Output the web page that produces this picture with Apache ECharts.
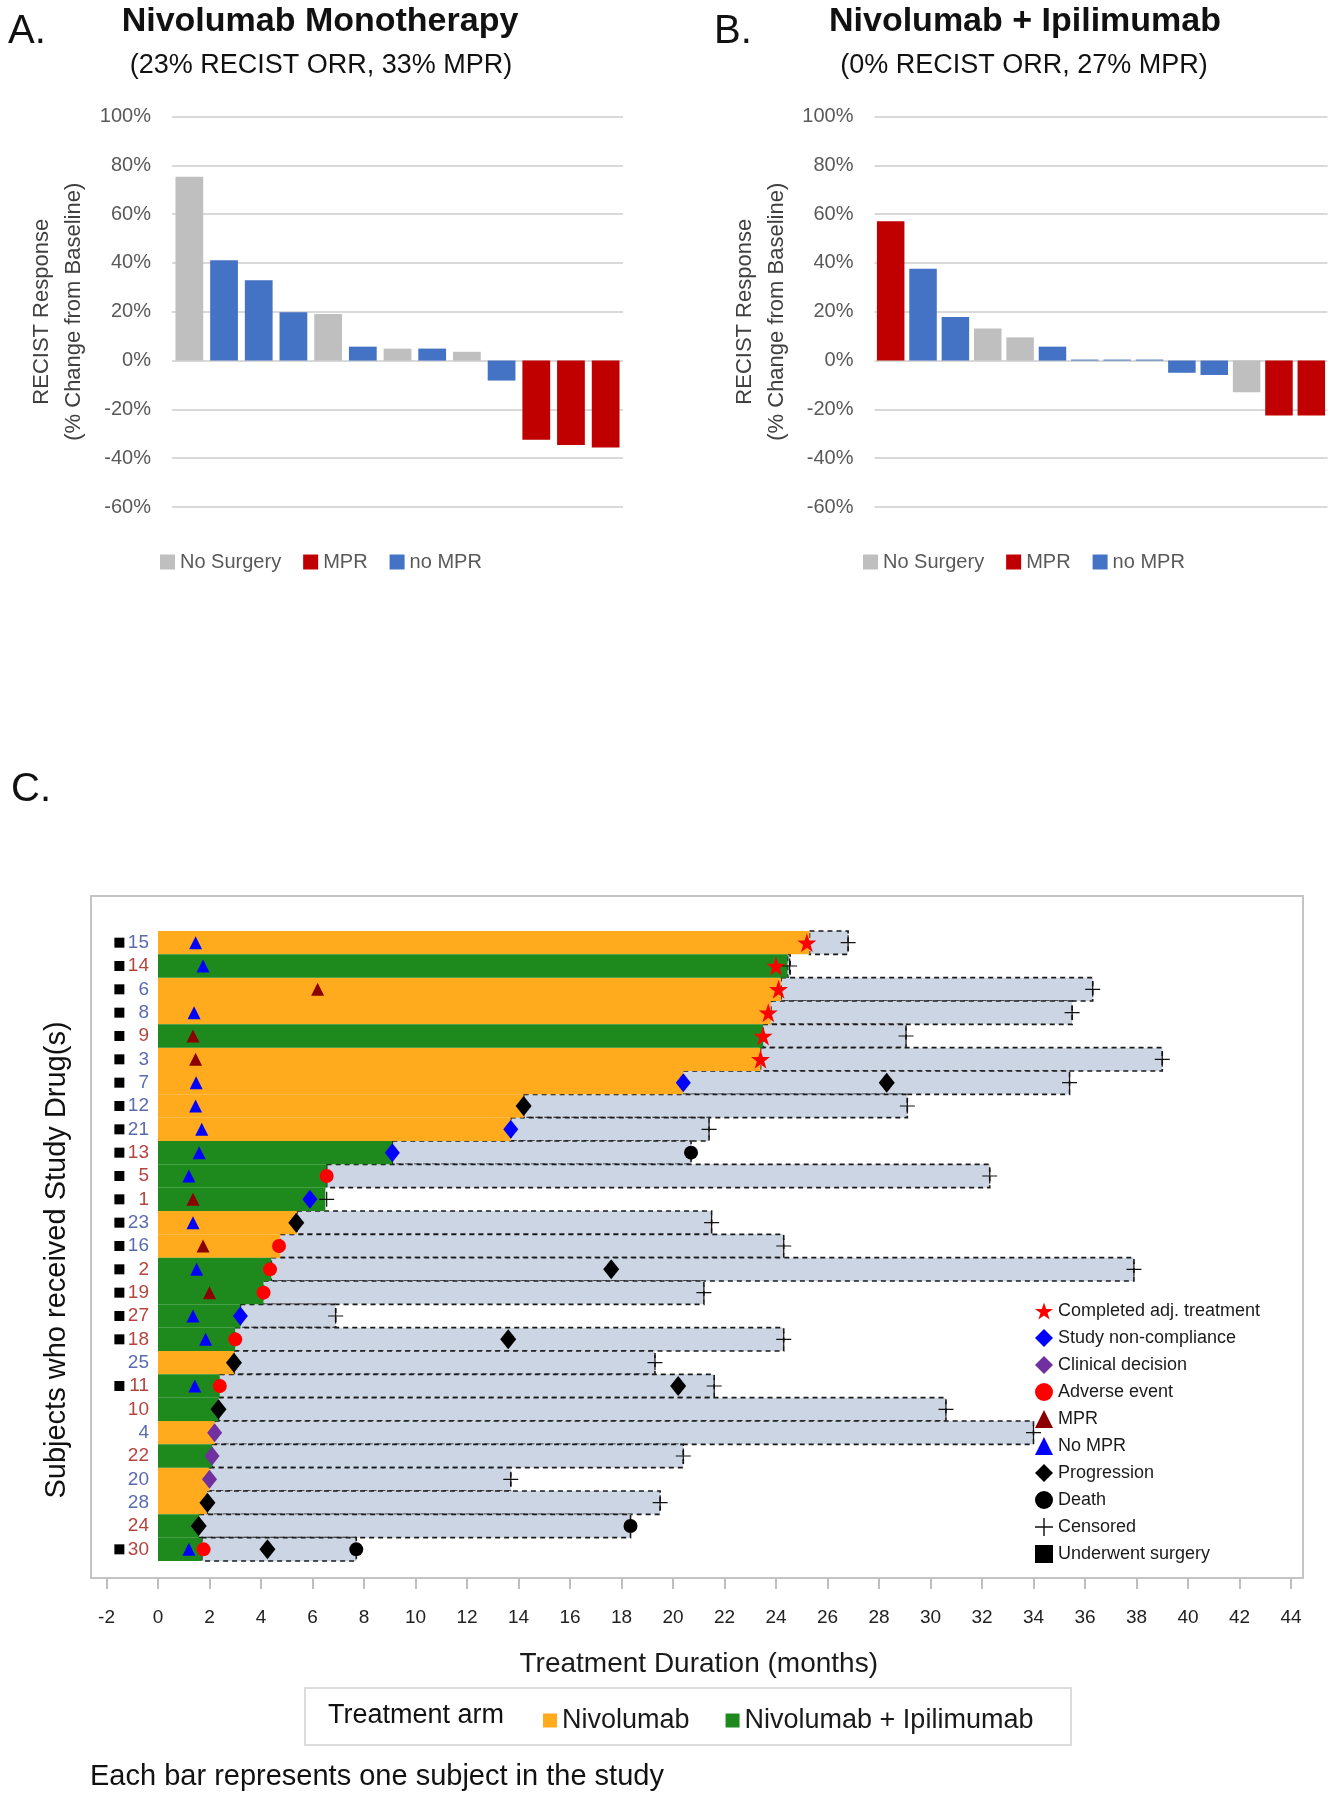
<!DOCTYPE html>
<html lang="en">
<head>
<meta charset="utf-8" />
<title>Nivolumab / Ipilimumab - RECIST waterfall and treatment duration</title>
<script src="https://cdn.jsdelivr.net/npm/echarts@6/dist/echarts.min.js"></script>
<style>
  html, body { margin: 0; padding: 0; background: #fff; }
  #chart { width: 1333px; height: 1800px; }
</style>
</head>
<body>
<div id="chart"></div>
<script>
// ---- panel A / B : RECIST change from baseline (%), one bar per subject
var recistA = [75.3, 41.1, 32.9, 19.8, 19.1, 5.7, 4.9, 4.9, 3.6, -8.2, -32.4, -34.6, -35.6]
var groupA = ['ns', 'no', 'no', 'no', 'ns', 'no', 'ns', 'no', 'ns', 'no', 'mpr', 'mpr', 'mpr']
var recistB = [57.1, 37.6, 17.9, 13.1, 9.5, 5.7, 0.4, 0.4, 0.4, -5.0, -5.9, -13.0, -22.5, -22.5]
var groupB = ['mpr', 'no', 'no', 'ns', 'ns', 'no', 'no', 'no', 'no', 'no', 'no', 'ns', 'mpr', 'mpr']
var groupNames = { ns: 'No Surgery', mpr: 'MPR', no: 'no MPR' }
var groupColors = { ns: '#bfbfbf', mpr: '#c00000', no: '#4472c4' }

// ---- panel C : swimmer plot (months)
var subjects = ['15', '14', '6', '8', '9', '3', '7', '12', '21', '13', '5', '1', '23', '16', '2', '19', '27', '18', '25', '11', '10', '4', '22', '20', '28', '24', '30']
var arm = ['N', 'NI', 'N', 'N', 'NI', 'N', 'N', 'N', 'N', 'NI', 'NI', 'NI', 'N', 'N', 'NI', 'NI', 'NI', 'NI', 'N', 'NI', 'NI', 'N', 'NI', 'N', 'N', 'NI', 'NI']
var treatEnd = [25.3, 24.45, 24.2, 23.8, 23.5, 23.4, 20.4, 14.2, 13.7, 9.1, 6.55, 6.5, 5.4, 4.75, 4.4, 4.1, 3.2, 3.0, 2.95, 2.4, 2.35, 2.2, 2.1, 2.0, 1.9, 1.6, 1.7]
var followEnd = [26.8, 24.55, 36.3, 35.5, 29.05, 39.0, 35.4, 29.1, 21.4, 20.7, 32.3, 6.5, 21.5, 24.3, 37.9, 21.2, 6.9, 24.3, 19.3, 21.6, 30.6, 34.0, 20.4, 13.7, 19.5, 18.35, 7.7]
var surgery = ['15', '14', '6', '8', '9', '3', '7', '12', '21', '13', '5', '1', '23', '16', '2', '19', '27', '18', '11', '30']
var surgeryX = -1.5

var completed = [[25.2, '15'], [24.0, '14'], [24.1, '6'], [23.7, '8'], [23.5, '9'], [23.4, '3']]
var nonCompliance = [[20.4, '7'], [13.7, '21'], [9.1, '13'], [5.9, '1'], [3.2, '27']]
var clinical = [[2.2, '4'], [2.1, '22'], [2.0, '20']]
var adverse = [[6.55, '5'], [4.7, '16'], [4.35, '2'], [4.1, '19'], [3.0, '18'], [2.4, '11'], [1.77, '30']]
var mpr = [[6.2, '6'], [1.36, '9'], [1.46, '3'], [1.36, '1'], [1.75, '16'], [2.0, '19']]
var noMpr = [[1.46, '15'], [1.75, '14'], [1.4, '8'], [1.48, '7'], [1.46, '12'], [1.7, '21'], [1.6, '13'], [1.2, '5'], [1.36, '23'], [1.5, '2'], [1.36, '27'], [1.85, '18'], [1.43, '11'], [1.2, '30']]
var progression = [[28.3, '7'], [14.2, '12'], [5.37, '23'], [17.6, '2'], [13.6, '18'], [2.95, '25'], [20.2, '11'], [2.35, '10'], [1.92, '28'], [1.58, '24'], [4.25, '30']]
var death = [[20.7, '13'], [18.35, '24'], [7.7, '30']]
var censored = [[26.8, '15'], [24.53, '14'], [36.3, '6'], [35.5, '8'], [29.05, '9'], [39.0, '3'], [35.4, '7'], [29.1, '12'], [21.4, '21'], [32.3, '5'], [6.55, '1'], [21.5, '23'], [24.3, '16'], [37.9, '2'], [21.2, '19'], [6.9, '27'], [24.3, '18'], [19.3, '25'], [21.6, '11'], [30.6, '10'], [34.0, '4'], [20.4, '22'], [13.7, '20'], [19.5, '28']]

var FONT = 'Liberation Sans, Arial, sans-serif'
var STAR = 'path://M50,0L61.8,35.1L98.5,35.1L68.8,56.7L80.2,91.6L50,70L19.8,91.6L31.2,56.7L1.5,35.1L38.2,35.1Z'
var PLUS = 'path://M9.2,0H10.8V9.2H20V10.8H10.8V20H9.2V10.8H0V9.2H9.2Z'

function waterfallSeries (vals, groups, idx, gap) {
  return ['ns', 'mpr', 'no'].map(function (key) {
    return {
      type: 'bar',
      name: groupNames[key],
      xAxisIndex: idx,
      yAxisIndex: idx,
      stack: 'w' + idx,
      barCategoryGap: gap,
      itemStyle: { color: groupColors[key] },
      data: vals.map(function (v, i) { return groups[i] === key ? v : null })
    }
  })
}

function eventSeries (name, data, symbol, size, color) {
  return {
    type: 'scatter', name: name, xAxisIndex: 2, yAxisIndex: 2, z: 6,
    symbol: symbol, symbolSize: size, itemStyle: { color: color, opacity: 1 }, data: data
  }
}

function pctAxis (idx) {
  return {
    type: 'value', gridIndex: idx, min: -60, max: 100, interval: 20,
    axisLine: { show: false }, axisTick: { show: false },
    axisLabel: { formatter: '{value}%', fontSize: 20, color: '#595959', fontFamily: FONT, margin: 21 },
    splitLine: { lineStyle: { color: '#d9d9d9', width: 2 } },
    name: 'RECIST Response\n(% Change from Baseline)',
    nameLocation: 'middle', nameGap: 82,
    nameTextStyle: { fontSize: 22, lineHeight: 32, color: '#404040', fontFamily: FONT }
  }
}

function catAxis (idx, n) {
  return {
    type: 'category', gridIndex: idx,
    data: Array.from({ length: n }, function (_, i) { return String(i + 1) }),
    axisLine: { show: false }, axisTick: { show: false }, axisLabel: { show: false }
  }
}

var chart = echarts.init(document.getElementById('chart'), null, { renderer: 'canvas' })

var series = []
  .concat(waterfallSeries(recistA, groupA, 0, '20%'))
  .concat(waterfallSeries(recistB, groupB, 1, '15%'))
  .concat([
    {
      type: 'bar', name: 'Nivolumab', xAxisIndex: 2, yAxisIndex: 2, stack: 'tx', z: 3,
      barCategoryGap: '0%', itemStyle: { color: '#ffab1d' },
      data: treatEnd.map(function (v, i) { return arm[i] === 'N' ? v : null })
    },
    {
      type: 'bar', name: 'Nivolumab + Ipilimumab', xAxisIndex: 2, yAxisIndex: 2, stack: 'tx', z: 3,
      barCategoryGap: '0%', itemStyle: { color: '#1e8a1e' },
      data: treatEnd.map(function (v, i) { return arm[i] === 'NI' ? v : null })
    },
    {
      type: 'custom', name: 'Follow-up', xAxisIndex: 2, yAxisIndex: 2, z: 2,
      encode: { x: [0, 1], y: 2 },
      data: subjects.map(function (s, i) { return [treatEnd[i], followEnd[i], i] }),
      renderItem: function (params, api) {
        var row = api.value(2)
        var p0 = api.coord([api.value(0), row])
        var p1 = api.coord([api.value(1), row])
        var h = api.size([0, 1])[1]
        if (p1[0] - p0[0] < 0.5) return null
        return {
          type: 'rect',
          shape: { x: p0[0], y: p0[1] - h / 2, width: p1[0] - p0[0], height: h },
          style: { fill: '#ccd5e3', stroke: '#1a1a1a', lineWidth: 1.6, lineDash: [5, 4] }
        }
      }
    },
    eventSeries('Completed adj. treatment', completed, STAR, 19, '#ff0000'),
    eventSeries('Study non-compliance', nonCompliance, 'diamond', [15, 19], '#0000ff'),
    eventSeries('Clinical decision', clinical, 'diamond', [15, 19], '#7030a0'),
    eventSeries('Adverse event', adverse, 'circle', 14, '#ff0000'),
    eventSeries('MPR (event)', mpr, 'triangle', 13, '#8b0000'),
    eventSeries('No MPR', noMpr, 'triangle', 13, '#0000ff'),
    eventSeries('Progression', progression, 'diamond', [16, 20], '#000000'),
    eventSeries('Death', death, 'circle', 14, '#000000'),
    eventSeries('Censored', censored, PLUS, 15, '#111111'),
    eventSeries('Underwent surgery', surgery.map(function (s) { return [surgeryX, s] }), 'rect', 10, '#000000')
  ])

function txt (x, y, text, size, opts) {
  opts = opts || {}
  return {
    type: 'text', x: x, y: y, rotation: opts.rotation || 0, z: 10,
    style: {
      text: text, fill: opts.color || '#111',
      font: (opts.weight || 'normal') + ' ' + size + 'px ' + FONT,
      align: opts.align || 'left', verticalAlign: 'middle',
      textAlign: opts.align || 'left', textVerticalAlign: 'middle'
    }
  }
}

chart.setOption({
  animation: false,
  backgroundColor: '#ffffff',
  textStyle: { fontFamily: FONT },
  grid: [
    { left: 172, right: 710, top: 116.5, bottom: 1293 },
    { left: 874.5, right: 5.5, top: 116.5, bottom: 1293 },
    { left: 106.5, right: 42, top: 931, bottom: 239 }
  ],
  xAxis: [
    catAxis(0, recistA.length),
    catAxis(1, recistB.length),
    {
      type: 'value', gridIndex: 2, min: -2, max: 44, interval: 2, offset: 17,
      axisLine: { show: false },
      axisTick: { show: true, length: 11, lineStyle: { color: '#bfbfbf', width: 2 } },
      axisLabel: { fontSize: 19, color: '#222', fontFamily: FONT, margin: 30 },
      splitLine: { show: false },
      name: 'Treatment Duration (months)', nameLocation: 'middle', nameGap: 72,
      nameTextStyle: { fontSize: 28, color: '#1a1a1a', fontFamily: FONT }
    }
  ],
  yAxis: [
    pctAxis(0),
    pctAxis(1),
    {
      type: 'category', gridIndex: 2, data: subjects, inverse: true,
      axisLine: { show: false, onZero: false }, axisTick: { show: false },
      axisLabel: {
        // labels sit just left of month 0, inside the plot
        margin: -42.5,
        formatter: function (v, i) { return '{' + (arm[i] === 'N' ? 'b' : 'r') + '|' + v + '}' },
        rich: {
          b: { color: '#5b6bb0', fontSize: 19, fontFamily: FONT },
          r: { color: '#b5443f', fontSize: 19, fontFamily: FONT }
        }
      }
    }
  ],
  legend: [
    {
      data: ['No Surgery', 'MPR', 'no MPR'], left: 155, top: 547,
      icon: 'rect', itemWidth: 15, itemHeight: 15, itemGap: 22, selectedMode: false,
      textStyle: { fontSize: 20, color: '#595959', fontFamily: FONT }
    },
    {
      data: ['No Surgery', 'MPR', 'no MPR'], left: 858, top: 547,
      icon: 'rect', itemWidth: 15, itemHeight: 15, itemGap: 22, selectedMode: false,
      textStyle: { fontSize: 20, color: '#595959', fontFamily: FONT }
    },
    {
      data: ['Completed adj. treatment', 'Study non-compliance', 'Clinical decision', 'Adverse event', 'MPR (event)', 'No MPR', 'Progression', 'Death', 'Censored', 'Underwent surgery'],
      orient: 'vertical', left: 1030, top: 1297, itemWidth: 18, itemHeight: 18, itemGap: 9,
      selectedMode: false,
      formatter: function (name) { return name === 'MPR (event)' ? 'MPR' : name },
      textStyle: { fontSize: 18, lineHeight: 18, color: '#1a1a1a', fontFamily: FONT }
    },
    {
      data: ['Nivolumab', 'Nivolumab + Ipilimumab'], left: 538, top: 1702,
      icon: 'rect', itemWidth: 14, itemHeight: 14, itemGap: 36, selectedMode: false,
      textStyle: { fontSize: 27, color: '#1a1a1a', fontFamily: FONT }
    }
  ],
  graphic: [
    txt(8, 32, 'A.', 40),
    txt(320, 22, 'Nivolumab Monotherapy', 34, { align: 'center', weight: 'bold' }),
    txt(321, 66, '(23% RECIST ORR, 33% MPR)', 27, { align: 'center' }),
    txt(714, 32, 'B.', 40),
    txt(1025, 22, 'Nivolumab + Ipilimumab', 34, { align: 'center', weight: 'bold' }),
    txt(1024, 66, '(0% RECIST ORR, 27% MPR)', 27, { align: 'center' }),
    txt(11, 790, 'C.', 40),
    {
      type: 'rect', z: 0,
      shape: { x: 91, y: 896, width: 1212, height: 682 },
      style: { fill: 'none', stroke: '#c4c4c4', lineWidth: 2 }
    },
    txt(57, 1260, 'Subjects who received Study Drug(s)', 29, { align: 'center', rotation: Math.PI / 2 }),
    {
      type: 'rect', z: 0,
      shape: { x: 305, y: 1688, width: 766, height: 57 },
      style: { fill: 'none', stroke: '#dcdcdc', lineWidth: 2 }
    },
    txt(328, 1716, 'Treatment arm', 27),
    txt(90, 1777, 'Each bar represents one subject in the study', 29)
  ],
  series: series
})
</script>
</body>
</html>
